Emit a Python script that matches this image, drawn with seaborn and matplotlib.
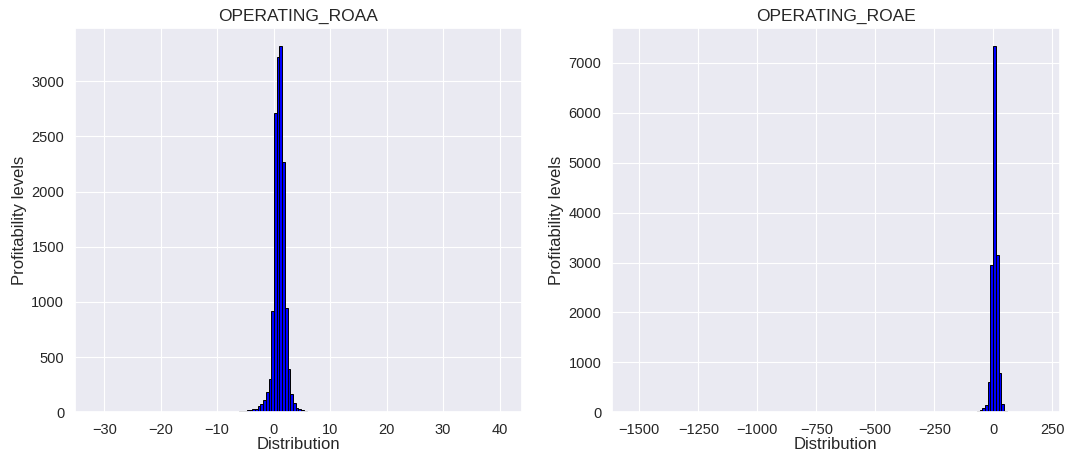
import numpy as np
import matplotlib
matplotlib.use("Agg")
import matplotlib.pyplot as plt
import seaborn as sns

# Histogram counts (150 bins per panel)
n_bins = 150

roaa_range = (-31.65, 40.43)
roaa_first_bin = 50
roaa_counts = [2, 4, 6, 8, 12, 14, 18, 22, 27, 30, 54, 72, 108, 181, 298,
               921, 2710, 3216, 3315, 2267, 940, 388, 163, 81, 36, 25, 18,
               10, 6, 4, 3, 2]
roaa_outliers = {0: 1, 149: 1}

roae_range = (-1530.0, 195.0)
roae_first_bin = 124
roae_counts = [3, 5, 8, 20, 40, 88, 154, 600, 2948, 7333, 3148, 786, 160,
               20, 5]
roae_outliers = {0: 1, 149: 1}

titles = ["OPERATING_ROAA", "OPERATING_ROAE"]


def full_counts(first, counts, outliers):
    w = np.zeros(n_bins)
    w[first:first + len(counts)] = counts
    for k, v in outliers.items():
        w[k] += v
    return w


sns.set_theme(style="darkgrid", rc={"grid.linewidth": 0.8})
plt.rcParams["font.family"] = ["Liberation Sans", "DejaVu Sans"]

fig, axes = plt.subplots(1, 2, figsize=(10.65, 4.53), dpi=100)
fig.subplots_adjust(left=0.07, right=0.995, bottom=0.09, top=0.938, wspace=0.2)

panels = [
    (roaa_range, roaa_first_bin, roaa_counts, roaa_outliers),
    (roae_range, roae_first_bin, roae_counts, roae_outliers),
]

for ax, title, (rng, first, counts, outl) in zip(axes, titles, panels):
    w = full_counts(first, counts, outl)
    edges = np.linspace(rng[0], rng[1], n_bins + 1)
    centers = (edges[:-1] + edges[1:]) / 2
    sns.histplot(x=centers, weights=w, bins=n_bins, binrange=rng, ax=ax,
                 color="blue", edgecolor="black", linewidth=0.7, alpha=1)
    # hide empty bins so no edge line runs along the bottom
    for p in ax.patches:
        if p.get_height() == 0:
            p.set_visible(False)
    ax.set_title(title, fontsize=12.5, color=".15", pad=5)
    ax.set_xlabel("Distribution", fontsize=12, color=".15", labelpad=0)
    ax.set_ylabel("Profitability levels", fontsize=12, color=".15", labelpad=3)
    ax.tick_params(labelsize=10.5, colors=".15", pad=1.5)

fig.savefig("out.png", dpi=100)
